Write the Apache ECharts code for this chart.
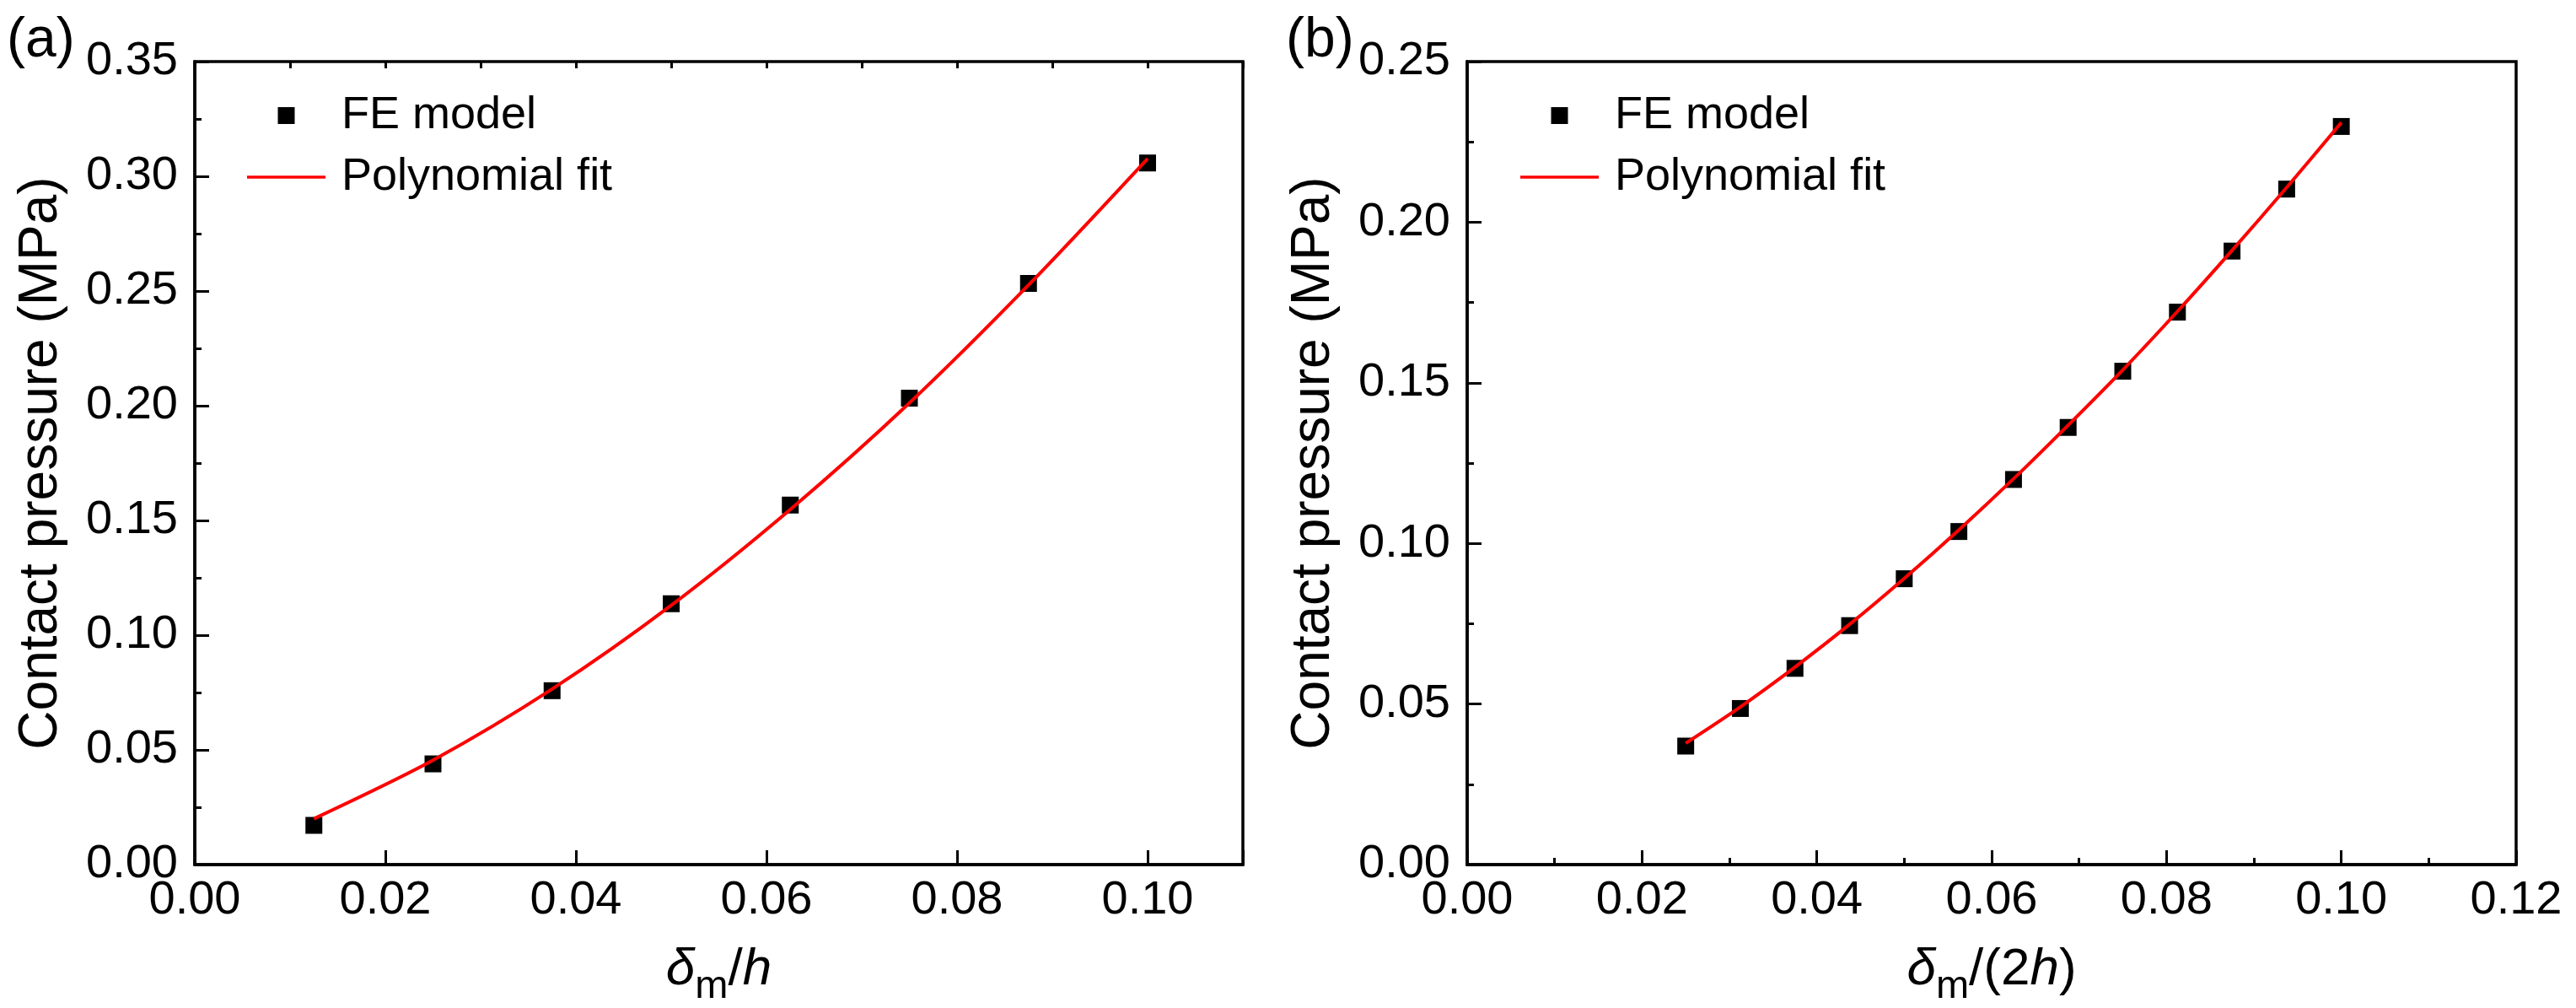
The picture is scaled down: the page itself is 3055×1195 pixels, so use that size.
<!DOCTYPE html>
<html>
<head>
<meta charset="utf-8">
<script src="https://cdn.jsdelivr.net/npm/echarts@6/dist/echarts.min.js"></script>
<style>
html,body{margin:0;padding:0;background:#fff;}
#chart{width:3055px;height:1195px;}
</style>
</head>
<body>
<div id="chart"></div>
<script>
// ---- data ----
const xA = [0.0125, 0.025, 0.0375, 0.05, 0.0625, 0.075, 0.0875, 0.1];
const feA = [0.0171, 0.0439, 0.0758, 0.1137, 0.1567, 0.2033, 0.2533, 0.3058];
const fitA = [0.0200, 0.0455, 0.0765, 0.1130, 0.1548, 0.2012, 0.2526, 0.3077];

const xB = [0.025, 0.03125, 0.0375, 0.04375, 0.05, 0.05625, 0.0625, 0.06875, 0.075, 0.08125, 0.0875, 0.09375, 0.1];
const feB = [0.0369, 0.0486, 0.0611, 0.0744, 0.0890, 0.1037, 0.1199, 0.1361, 0.1536, 0.1720, 0.1910, 0.2103, 0.2298];
const fitB = [0.0378, 0.0491, 0.0615, 0.0748, 0.0891, 0.1042, 0.1201, 0.1368, 0.1540, 0.1722, 0.1912, 0.2108, 0.2310];

const xTickLabelsA = ['0.00', '0.02', '0.04', '0.06', '0.08', '0.10'];
const yTickLabelsA = ['0.00', '0.05', '0.10', '0.15', '0.20', '0.25', '0.30', '0.35'];
const xTickLabelsB = ['0.00', '0.02', '0.04', '0.06', '0.08', '0.10', '0.12'];
const yTickLabelsB = ['0.00', '0.05', '0.10', '0.15', '0.20', '0.25'];

const seriesNames = ['FE model', 'Polynomial fit'];
const yTitle = 'Contact pressure (MPa)';
const panelLabels = ['(a)', '(b)'];

// ---- styling ----
const FONT = '"Liberation Sans", Arial, Helvetica, sans-serif';
const BLACK = '#000';
const RED = '#ff0000';

function pair(xs, ys) { return xs.map((x, i) => [x, ys[i]]); }
function fmt(labels) {
  return function (v) { const s = v.toFixed(2); return labels.indexOf(s) >= 0 ? s : ''; };
}

const gridA = { left: 231, top: 73, width: 1243, height: 952 };
const gridB = { left: 1740, top: 73, width: 1244, height: 952 };

const richName = {
  i: { fontFamily: FONT, fontStyle: 'italic', fontSize: 62, color: BLACK, verticalAlign: 'top', lineHeight: 70 },
  n: { fontFamily: FONT, fontSize: 62, color: BLACK, verticalAlign: 'top', lineHeight: 70 },
  s: { fontFamily: FONT, fontSize: 47, color: BLACK, verticalAlign: 'top', padding: [28, 0, 0, 0] }
};

function mainX(gridIndex, max, labels, name, minor) {
  return {
    type: 'value', gridIndex: gridIndex, min: 0, max: max, interval: 0.02,
    name: name, nameLocation: 'middle', nameGap: 94,
    nameTextStyle: { rich: richName },
    axisLine: { show: true, onZero: false, lineStyle: { color: BLACK, width: 3.5 } },
    axisTick: { show: true, inside: true, length: 17, lineStyle: { color: BLACK, width: 3 } },
    minorTick: { show: minor, splitNumber: 2, length: 8, lineStyle: { color: BLACK, width: 3 } },
    axisLabel: { show: true, margin: 15, fontSize: 56, fontFamily: FONT, color: BLACK, formatter: fmt(labels) },
    splitLine: { show: false }, minorSplitLine: { show: false }
  };
}
function minorX(gridIndex, max) {
  return {
    type: 'value', gridIndex: gridIndex, min: 0, max: max, interval: 0.01,
    axisLine: { show: false, onZero: false },
    axisTick: { show: true, inside: true, length: 8, lineStyle: { color: BLACK, width: 3 } },
    axisLabel: { show: false }, splitLine: { show: false }
  };
}
function mainY(gridIndex, max, labels) {
  return {
    type: 'value', gridIndex: gridIndex, min: 0, max: max, interval: 0.05,
    name: yTitle, nameLocation: 'middle', nameGap: 150,
    nameTextStyle: { fontSize: 64, fontFamily: FONT, color: BLACK },
    axisLine: { show: true, onZero: false, lineStyle: { color: BLACK, width: 3.5 } },
    axisTick: { show: true, inside: true, length: 17, lineStyle: { color: BLACK, width: 3 } },
    minorTick: { show: true, splitNumber: 2, length: 8, lineStyle: { color: BLACK, width: 3 } },
    axisLabel: { show: true, margin: 20, fontSize: 56, fontFamily: FONT, color: BLACK, formatter: fmt(labels) },
    splitLine: { show: false }, minorSplitLine: { show: false }
  };
}

const squareIcon = 'path://M0 0H10V10H0Z';
const lineIcon = 'path://M0 0H93V3.5H0Z';
function legendFor(left) {
  return {
    orient: 'vertical', left: left, top: 102,
    itemWidth: 93, itemHeight: 20, itemGap: 13,
    textStyle: { fontSize: 54, fontFamily: FONT, color: BLACK, lineHeight: 60, padding: [0, 0, 0, 14] },
    data: [
      { name: seriesNames[0], icon: squareIcon, itemStyle: { color: BLACK, opacity: 1 } },
      { name: seriesNames[1], icon: lineIcon, itemStyle: { color: RED, opacity: 1 } }
    ],
    selectedMode: false
  };
}

function scatterS(xi, yi, data) {
  return {
    name: seriesNames[0], type: 'scatter', xAxisIndex: xi, yAxisIndex: yi,
    symbol: 'rect', symbolSize: 20, itemStyle: { color: BLACK, opacity: 1 }, data: data, z: 2
  };
}
function lineS(xi, yi, data) {
  return {
    name: seriesNames[1], type: 'line', xAxisIndex: xi, yAxisIndex: yi,
    symbol: 'none', smooth: 0.3,
    lineStyle: { color: RED, width: 4 }, itemStyle: { color: RED }, data: data, z: 3
  };
}

const gridBase = { show: true, borderColor: BLACK, borderWidth: 3.5, containLabel: false, outerBoundsMode: 'none' };

const option = {
  backgroundColor: '#fff',
  animation: false,
  grid: [
    Object.assign({}, gridBase, gridA),
    Object.assign({}, gridBase, gridB)
  ],
  xAxis: [
    mainX(0, 0.11, xTickLabelsA, '{i|δ}{s|m}{n|/}{i|h}', false),
    minorX(0, 0.11),
    mainX(1, 0.12, xTickLabelsB, '{i|δ}{s|m}{n|/(2}{i|h}{n|)}', true)
  ],
  yAxis: [
    mainY(0, 0.35, yTickLabelsA),
    mainY(1, 0.25, yTickLabelsB)
  ],
  legend: [legendFor(288), legendFor(1798)],
  graphic: [
    { type: 'text', left: 8, top: 16, style: { text: panelLabels[0], font: '66px ' + FONT, fill: BLACK } },
    { type: 'text', left: 1525, top: 16, style: { text: panelLabels[1], font: '66px ' + FONT, fill: BLACK } }
  ],
  series: [
    scatterS(0, 0, pair(xA, feA)),
    lineS(0, 0, pair(xA, fitA)),
    scatterS(2, 1, pair(xB, feB)),
    lineS(2, 1, pair(xB, fitB))
  ]
};

const chart = echarts.init(document.getElementById('chart'), null, { renderer: 'canvas', devicePixelRatio: 1 });
chart.setOption(option);
</script>
</body>
</html>
